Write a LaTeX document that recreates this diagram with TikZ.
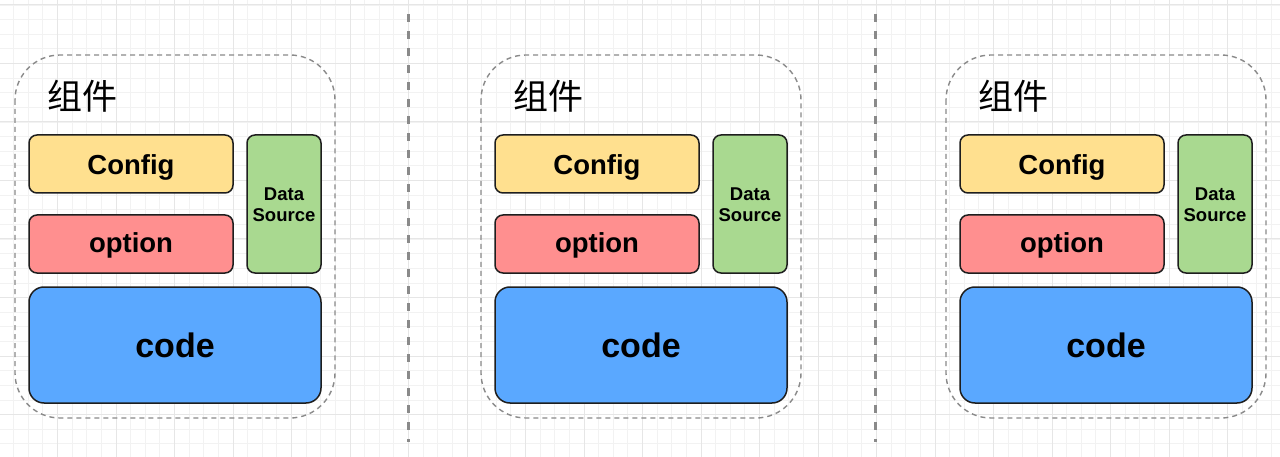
\documentclass[tikz,border=0pt]{standalone}
\usepackage{fontspec}
\setmainfont{Liberation Sans}
\newfontfamily\cjk{Noto Sans CJK SC}
\definecolor{gridmaj}{HTML}{E6E6E6}
\definecolor{gridmin}{HTML}{F2F2F2}
\definecolor{cfgfill}{HTML}{FFE08F}
\definecolor{optfill}{HTML}{FF8F8F}
\definecolor{dsfill}{HTML}{A9D990}
\definecolor{codefill}{HTML}{5AA8FF}
\definecolor{edge}{HTML}{1E1E1E}
\definecolor{dashgray}{HTML}{8A8A8A}
\tikzset{
  blockbox/.style={draw=edge, line width=1.5pt, rounded corners=8pt, inner sep=0pt},
  lbl/.style={text=black, inner sep=0pt, anchor=base},
  frame/.style={draw=dashgray, line width=1.4pt, dash pattern=on 5pt off 4pt, rounded corners=45pt},
  sep/.style={draw=dashgray, line width=3pt, dash pattern=on 8pt off 9pt},
}
\begin{document}
\begin{tikzpicture}[x=1pt,y=-1pt]
\useasboundingbox (0,0) rectangle (1280,457);
\fill[white] (0,0) rectangle (1280,457);
% grid
\foreach \i in {0,...,88} {
  \draw[gridmin, line width=0.8pt] ({-1+14.625*\i},0) -- ({-1+14.625*\i},457);
}
\foreach \i in {0,...,31} {
  \draw[gridmin, line width=0.8pt] (0,{-9.6+14.625*\i}) -- (1280,{-9.6+14.625*\i});
}
\foreach \i in {0,...,22} {
  \draw[gridmaj, line width=1pt] ({-1+58.5*\i},0) -- ({-1+58.5*\i},457);
}
\foreach \i in {0,...,8} {
  \draw[gridmaj, line width=1pt] (0,{5+58.5*\i}) -- (1280,{5+58.5*\i});
}
% separators
\coordinate (s1t) at (408,14);
\coordinate (s1b) at (408,442);
\coordinate (s2t) at (875,14);
\coordinate (s2b) at (875,442);
\draw[sep] (s1t) -- (s1b);
\draw[sep] (s2t) -- (s2b);
% panels
\foreach \o/\n in {0/a,466/b,931/c} {
  \begin{scope}[xshift=\o pt]
    \draw[frame] (15,55) rectangle (335,418);
    \node[anchor=west, inner sep=0pt, font=\cjk\fontsize{35}{40}\selectfont] (title\n) at (47,96) {组件};
    \draw[blockbox, fill=cfgfill] (29,135) rectangle (233,193);
    \node[lbl, font=\bfseries\fontsize{27.5}{30}\selectfont] (cfg\n) at (131,175) {Config};
    \draw[blockbox, fill=optfill] (29,215) rectangle (233,273);
    \node[lbl, font=\bfseries\fontsize{27.5}{30}\selectfont] (opt\n) at (131,252) {option};
    \draw[blockbox, fill=dsfill] (247,135) rectangle (321,273);
    \node[lbl, font=\bfseries\fontsize{18.5}{21}\selectfont, align=center] (ds\n) at (284,222) {Data\\Source};
    \draw[blockbox, rounded corners=15pt, fill=codefill] (29,287) rectangle (321,403);
    \node[lbl, font=\bfseries\fontsize{34}{40}\selectfont] (code\n) at (175,357) {code};
  \end{scope}
}
\end{tikzpicture}
\end{document}
